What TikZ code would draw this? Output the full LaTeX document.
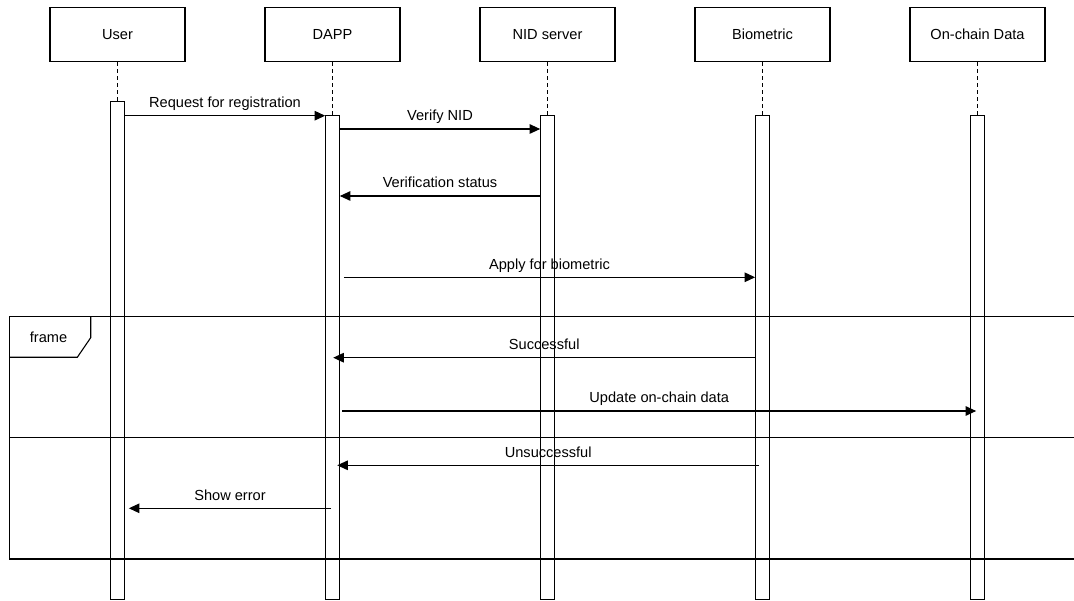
\documentclass[tikz,border=0pt]{standalone}
\usepackage{fontspec}
\setmainfont{Liberation Sans}
\usetikzlibrary{arrows.meta}
\begin{document}
\begin{tikzpicture}[x=1pt,y=-1pt,line width=1.1pt,
    every node/.style={font=\fontsize{14.6}{17}\selectfont},
    actor/.style={draw,minimum width=135pt,minimum height=54.4pt},
    actbar/.style={draw,fill=white,minimum width=13.6pt,inner sep=0pt},
    msg/.style={-{Triangle[length=10.5pt,width=9.5pt]}},
    lbl/.style={anchor=base,yshift=8pt,inner sep=0pt}]
      \useasboundingbox (0,0) rectangle (1074,601);
      \clip (0,0) rectangle (1074,601);
      \foreach \x/\t in{1/User, 2/DAPP, 3/NID server, 4/Biometric, 5/On-chain Data}{
        \node[actor](N\x) at ({117.5+215*(\x-1)}, 34.5) {\t};
      }
      % activation bars and lifelines
      \node[actbar,minimum height=497.6pt](B1) at (117.5,350.5) {};
      \foreach \x in{2,...,5}{
        \node[actbar,minimum height=483.6pt](B\x) at ({117.5+215*(\x-1)}, 357.5) {};
      }
      \foreach \x in{1,...,5}{
        \draw[dash pattern=on 4pt off 3pt](N\x)--(B\x);
      }
      % frame
      \draw(9.3,316.7) rectangle (1090,559);
      \draw(9.3,437.3)--(1090,437.3);
      \draw(9.3,357.3)--(77.3,357.3)--(90.7,337.7)--(90.7,316.7);
      \node(F) at (48.5,337) {frame};
      % messages
      \foreach \a/\p/\b/\q/\y/\t in{
          B1.east/0/B2.west/0/115.7/Request for registration,
          B2.east/0/B3.west/0/129/Verify NID,
          B3.west/0/B2.east/0/196/Verification status,
          B2.east/4/B4.west/0/277.3/Apply for biometric,
          B4.west/0/B2.east/-6.6/357.7/Successful,
          B2.east/2.4/B5.west/6/411/Update on-chain data,
          B4.west/4/B2.east/-2.6/465.3/Unsuccessful,
          B2.west/6/B1.east/4/508.3/Show error}{
        \draw[msg]([xshift=\p]\a|-0,\y)--node[lbl]{\t}([xshift=\q]\b|-0,\y);
      }
    \end{tikzpicture}
\end{document}
